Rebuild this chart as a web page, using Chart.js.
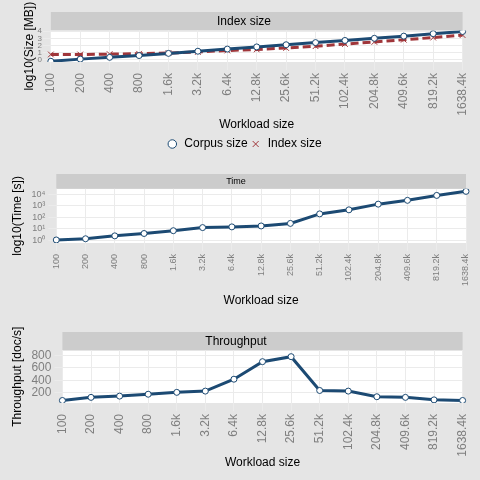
<!DOCTYPE html>
<html><head><meta charset="utf-8">
<script src="https://cdn.jsdelivr.net/npm/chart.js@4"></script>
<style>
body{margin:0;background:#e5e5e5;font-family:"Liberation Sans",Arial,sans-serif}
.p{width:480px;position:relative}
</style></head><body>
<div class="p" style="height:160px"><canvas id="c1"></canvas></div>
<div class="p" style="height:160px"><canvas id="c2"></canvas></div>
<div class="p" style="height:160px"><canvas id="c3"></canvas></div>
<script>
const workloads = ['100','200','400','800','1.6k','3.2k','6.4k','12.8k','25.6k','51.2k','102.4k','204.8k','409.6k','819.2k','1638.4k'];
const corpusLog = [-0.2,0.1,0.35,0.6,0.9,1.2,1.5,1.8,2.1,2.4,2.7,3.0,3.3,3.65,3.95];
const indexLog = [0.75,0.75,0.8,0.85,0.95,1.1,1.3,1.45,1.65,1.9,2.2,2.5,2.8,3.1,3.45];
const timeSec = [1.1,1.4,2.5,4,7,13,15,18,30,200,450,1400,3000,8000,18000];
const throughput = [80,130,150,180,210,230,420,700,780,240,230,140,130,90,80];

const blue = '#1c4a73', red = '#a0363a', grey = '#7f7f7f';
Chart.defaults.font.family = '"Liberation Sans", Arial, sans-serif';
Chart.defaults.animation = false;

const strip = {
  id: 'strip',
  beforeDraw(c) {
    const a = c.chartArea, t = c.titleBlock, x = c.ctx;
    x.save();
    x.fillStyle = '#ffffff';
    x.fillRect(a.left, a.top, a.right - a.left, a.bottom - a.top);
    x.fillStyle = '#cccccc';
    x.fillRect(a.left, t.top, a.right - a.left, t.bottom - t.top);
    x.restore();
  }
};
const sup = n => '10' + ({'-1':'⁻¹','0':'⁰','1':'¹','2':'²','3':'³','4':'⁴'})[n];

function xAxis(size) {
  return {
    grid: { color: '#ebebeb' }, border: { display: false },
    ticks: { color: grey, font: { size }, maxRotation: 90, minRotation: 90, autoSkip: false },
    title: { display: true, text: 'Workload size', color: '#000', font: { size: 12 }, padding: { top: 8 } }
  };
}
function title(text, size) {
  return { display: true, text, color: '#000', font: { size, weight: 'normal' }, padding: { top: 2, bottom: 2 } };
}
const lineDs = (label, data) => ({
  label, data, borderColor: blue, borderWidth: 3, pointBackgroundColor: '#fff',
  pointBorderColor: blue, pointBorderWidth: 1, pointRadius: 3
});

new Chart(document.getElementById('c1'), {
  type: 'line',
  data: { labels: workloads, datasets: [
    Object.assign(lineDs('Corpus size', corpusLog), { pointStyle: 'circle' }),
    { label: 'Index size', data: indexLog, borderColor: red, borderWidth: 3, borderDash: [8, 4],
      pointStyle: 'crossRot', pointRadius: 4, pointBorderColor: red, pointBorderWidth: 1 }
  ]},
  options: {
    maintainAspectRatio: false,
    layout: { padding: { left: 22, right: 14, top: 12, bottom: 0 } },
    plugins: {
      title: title('Index size', 12),
      legend: { position: 'bottom', labels: { usePointStyle: true, color: '#000', font: { size: 12 }, boxHeight: 6, padding: 2 } }
    },
    scales: {
      x: xAxis(12),
      y: { min: -0.3, max: 4.1, grid: { color: '#ebebeb' }, border: { display: false },
        afterBuildTicks: ax => { ax.ticks = [0,1,2,3,4].map(v => ({ value: v })); },
        ticks: { color: grey, font: { size: 8 }, padding: 1, autoSkip: false, callback: v => String(v) },
        title: { display: true, text: 'log10(Size [MB])', color: '#000', font: { size: 12 }, padding: 0 } }
    }
  },
  plugins: [strip]
});

new Chart(document.getElementById('c2'), {
  type: 'line',
  data: { labels: workloads, datasets: [lineDs('Time', timeSec)] },
  options: {
    maintainAspectRatio: false,
    layout: { padding: { left: 6, right: 14, top: 14, bottom: 8 } },
    plugins: { title: title('Time', 9), legend: { display: false } },
    scales: {
      x: xAxis(9),
      y: { type: 'logarithmic', min: 0.6, max: 30000, grid: { color: '#ebebeb' }, border: { display: false },
        afterBuildTicks: ax => { ax.ticks = [1,10,100,1000,10000].map(v => ({ value: v })); },
        ticks: { color: grey, font: { size: 9 }, autoSkip: false, callback: v => sup(String(Math.round(Math.log10(v)))) },
        title: { display: true, text: 'log10(Time [s])', color: '#000', font: { size: 12 } } }
    }
  },
  plugins: [strip]
});

new Chart(document.getElementById('c3'), {
  type: 'line',
  data: { labels: workloads, datasets: [lineDs('Throughput', throughput)] },
  options: {
    maintainAspectRatio: false,
    layout: { padding: { left: 6, right: 14, top: 12, bottom: 6 } },
    plugins: { title: title('Throughput', 12), legend: { display: false } },
    scales: {
      x: xAxis(12),
      y: { min: 40, max: 880, grid: { color: '#ebebeb' }, border: { display: false },
        afterBuildTicks: ax => { ax.ticks = [200,400,600,800].map(v => ({ value: v })); },
        ticks: { color: grey, font: { size: 12 }, autoSkip: false },
        title: { display: true, text: 'Throughput [doc/s]', color: '#000', font: { size: 12 } } }
    }
  },
  plugins: [strip]
});
</script>
</body></html>
